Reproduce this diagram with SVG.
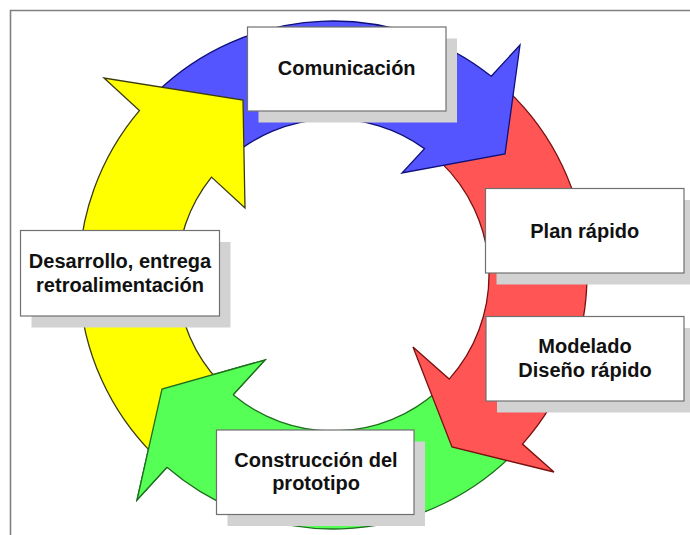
<svg xmlns="http://www.w3.org/2000/svg" width="690" height="535" viewBox="0 0 690 535">
<style>
.frame{fill:none;stroke:#808080;stroke-width:1.6}
.arr{stroke-width:1.3;stroke-linejoin:miter}
.blue{fill:#5555FF;stroke:#10107A}
.red{fill:#FF5555;stroke:#7A1010}
.green{fill:#55FF55;stroke:#1E6E1E}
.yellow{fill:#FFFF00;stroke:#3A3A10}
.shadow{fill:#D2D2D2}
.box{fill:#FFFFFF;stroke:#707070;stroke-width:1.2}
.lbl{font-family:"Liberation Sans",Arial,sans-serif;font-weight:bold;font-size:20px;fill:#111111;text-anchor:middle}
</style>
<rect x="0" y="0" width="690" height="535" fill="#FFFFFF"/>
<path class="frame" d="M10.5,535 V10.5 H690"/>
<g id="connectors">
<path class="arr green" d="M511.3,455.9 A254,254 0 0 1 167,467.2 L137,500 L162,389 L265,360 L233.1,394.8 A156,156 0 0 0 437.7,390.7 Z"/>
<path class="arr red" d="M507,90 A254,254 0 0 1 522.5,444.1 L554,472 L452,447 L413,347 L449.2,379.1 A156,156 0 0 0 440.6,162.1 Z"/>
<path class="arr blue" d="M157.2,91.7 A254,254 0 0 1 491.2,76.3 L520,45 L505,154 L402,173 L424.5,148.6 A156,156 0 0 0 229.4,158.3 Z"/>
<path class="arr yellow" d="M153.2,454.4 A254,254 0 0 1 139.4,110.6 L104,78 L243,100 L245,208 L211.5,177.1 A156,156 0 0 0 219.4,381.9 Z"/>
<path d="M137,500 L162,389 L265,360 Z" fill="#55FF55" stroke="none"/>
<path class="arr" d="M167,467.2 L137,500 L162,389 L265,360 L233.1,394.8" fill="none" stroke="#1E6E1E"/>
</g>
<g id="node-comunicacion">
<rect class="shadow" x="258.5" y="38.5" width="198.5" height="84"/>
<rect class="box" x="247.5" y="27" width="198.5" height="84"/>
<text class="lbl" x="346.7" y="75">Comunicación</text>
</g>
<g id="node-plan">
<rect class="shadow" x="496.5" y="200" width="198.5" height="84.5"/>
<rect class="box" x="485.5" y="188.5" width="198.5" height="84.5"/>
<text class="lbl" x="584.7" y="237.5">Plan rápido</text>
</g>
<g id="node-modelado">
<rect class="shadow" x="497" y="328" width="198" height="84.5"/>
<rect class="box" x="486" y="316.5" width="198" height="84.5"/>
<text class="lbl" x="585" y="353">Modelado</text>
<text class="lbl" x="585" y="377">Diseño rápido</text>
</g>
<g id="node-desarrollo">
<rect class="shadow" x="31.5" y="242" width="199" height="85.5"/>
<rect class="box" x="20.5" y="230.5" width="199" height="85.5"/>
<text class="lbl" x="120" y="268">Desarrollo, entrega</text>
<text class="lbl" x="120" y="292">retroalimentación</text>
</g>
<g id="node-construccion">
<rect class="shadow" x="227.5" y="441.5" width="197.5" height="84.5"/>
<rect class="box" x="216.5" y="430" width="197.5" height="84.5"/>
<text class="lbl" x="316" y="467">Construcción del</text>
<text class="lbl" x="316" y="490">prototipo</text>
</g>
</svg>
